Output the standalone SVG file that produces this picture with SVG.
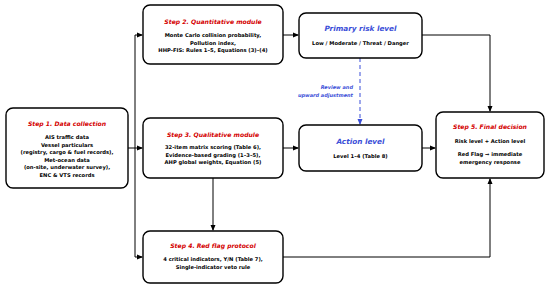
<svg xmlns="http://www.w3.org/2000/svg" width="550" height="291" viewBox="0 0 550 291">
<defs>
<marker id="ah" markerWidth="6" markerHeight="6" refX="5" refY="3" orient="auto" markerUnits="userSpaceOnUse"><path d="M0,0.5 L6,3 L0,5.5 Z" fill="#000"/></marker>
<marker id="ahb" markerWidth="6" markerHeight="6" refX="5" refY="3" orient="auto" markerUnits="userSpaceOnUse"><path d="M0,0.5 L6,3 L0,5.5 Z" fill="#3b4fd8"/></marker>
</defs>
<style>
rect.box{fill:#fff;stroke:#000;stroke-width:1.4}
text{font-family:"DejaVu Sans",sans-serif;text-anchor:middle;font-weight:bold}
.t{fill:#d40000;font-style:italic;font-size:6.1px}
.tb{fill:#3b4fd8;font-style:italic;font-size:7.3px;font-weight:bold}
.b{fill:#000;font-size:5.2px}
.lbl{fill:#3b4fd8;font-style:italic;font-size:5px;text-anchor:end}
.c{fill:none;stroke:#000;stroke-width:1}
</style>
<g id="connectors">
<path class="c" d="M128,148 H135"/>
<path class="c" d="M135,35 V257"/>
<path class="c" d="M135,35 H142" marker-end="url(#ah)"/>
<path class="c" d="M135,148 H142" marker-end="url(#ah)"/>
<path class="c" d="M135,257 H142" marker-end="url(#ah)"/>
<path class="c" d="M283,35 H298" marker-end="url(#ah)"/>
<path class="c" d="M283,148 H298" marker-end="url(#ah)"/>
<path class="c" d="M422,148 H435" marker-end="url(#ah)"/>
<path class="c" d="M422,35 H490 V111" marker-end="url(#ah)"/>
<path class="c" d="M283,257 H490 V179" marker-end="url(#ah)"/>
<path class="c" d="M213,178 V230" marker-end="url(#ah)"/>
<path d="M360,58 V124" fill="none" stroke="#3b4fd8" stroke-width="1" stroke-dasharray="4,3" marker-end="url(#ahb)"/>
<text class="lbl" x="353" y="89">Review and</text>
<text class="lbl" x="353" y="97">upward adjustment</text>
</g>
<g id="step1">
<rect class="box" x="6" y="108" width="122" height="80" rx="7"/>
<text class="t" x="67" y="125.5">Step 1. Data collection</text>
<text class="b" x="67" y="139">AIS traffic data</text>
<text class="b" x="67" y="146.5">Vessel particulars</text>
<text class="b" x="67" y="154">(registry, cargo &amp; fuel records),</text>
<text class="b" x="67" y="161.5">Met-ocean data</text>
<text class="b" x="67" y="169">(on-site, underwater survey),</text>
<text class="b" x="67" y="176.5">ENC &amp; VTS records</text>
</g>
<g id="step2">
<rect class="box" x="143" y="5" width="140" height="59" rx="7"/>
<text class="t" x="213" y="23.5">Step 2. Quantitative module</text>
<text class="b" x="213" y="37">Monte Carlo collision probability,</text>
<text class="b" x="213" y="44.5">Pollution index,</text>
<text class="b" x="213" y="52">HHP-FIS: Rules 1–5, Equations (3)–(4)</text>
</g>
<g id="primary">
<rect class="box" x="299" y="13" width="123" height="45" rx="7"/>
<text class="tb" x="360.5" y="30.5">Primary risk level</text>
<text class="b" x="360.5" y="45">Low / Moderate / Threat / Danger</text>
</g>
<g id="step3">
<rect class="box" x="143" y="118" width="140" height="60" rx="7"/>
<text class="t" x="213" y="136.5">Step 3. Qualitative module</text>
<text class="b" x="213" y="149">32-item matrix scoring (Table 6),</text>
<text class="b" x="213" y="156.5">Evidence-based grading (1–3–5),</text>
<text class="b" x="213" y="164">AHP global weights, Equation (5)</text>
</g>
<g id="action">
<rect class="box" x="299" y="125" width="123" height="46" rx="7"/>
<text class="tb" x="360.5" y="143.5">Action level</text>
<text class="b" x="360.5" y="158">Level 1–4 (Table 8)</text>
</g>
<g id="step4">
<rect class="box" x="143" y="231" width="140" height="52" rx="7"/>
<text class="t" x="213" y="247.5">Step 4. Red flag protocol</text>
<text class="b" x="213" y="261">4 critical indicators, Y/N (Table 7),</text>
<text class="b" x="213" y="269">Single-indicator veto rule</text>
</g>
<g id="step5">
<rect class="box" x="436" y="112" width="108" height="66" rx="7"/>
<text class="t" x="490" y="128.5">Step 5. Final decision</text>
<text class="b" x="490" y="143">Risk level + Action level</text>
<text class="b" x="490" y="156">Red Flag → immediate</text>
<text class="b" x="490" y="163.5">emergency response</text>
</g>
</svg>
